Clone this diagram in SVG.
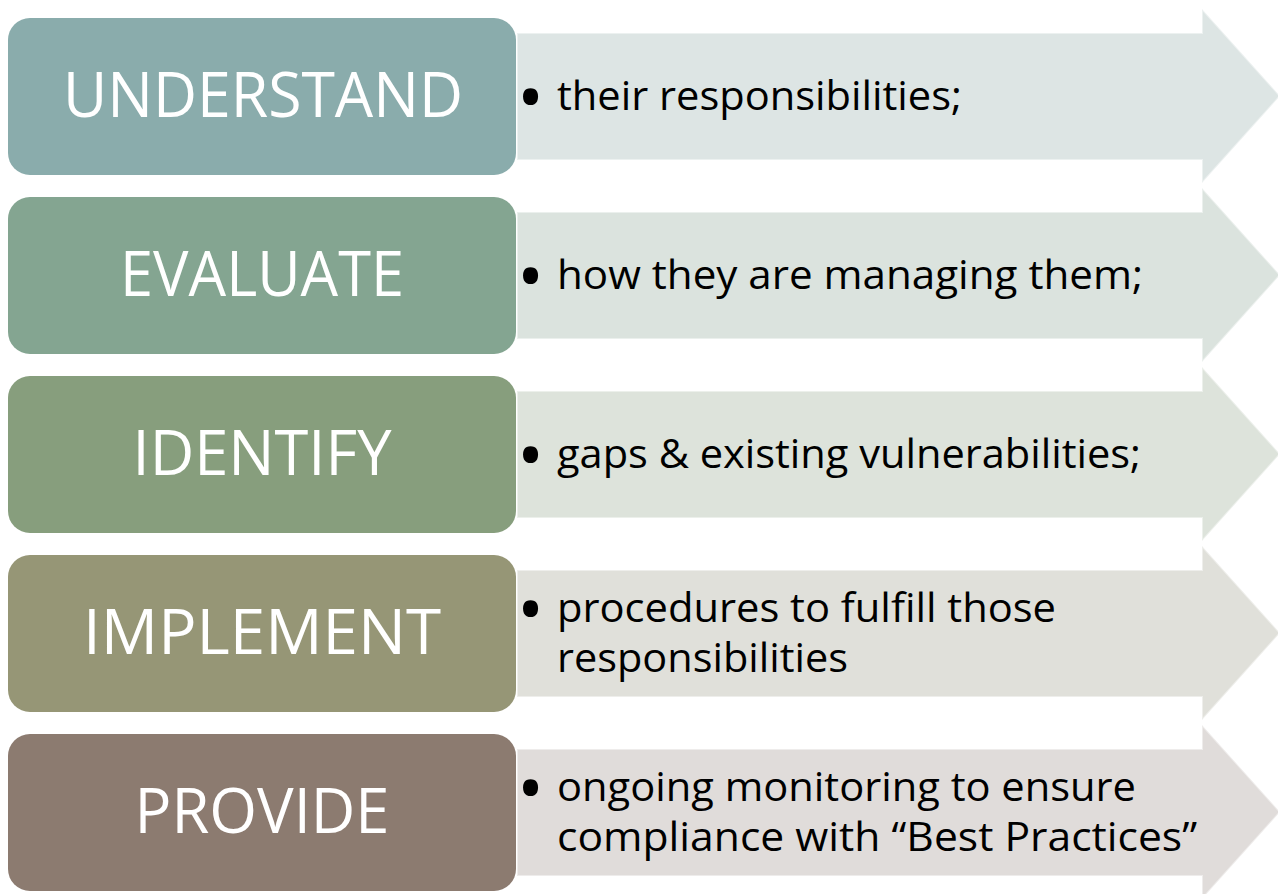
<svg xmlns="http://www.w3.org/2000/svg" width="1278" height="894" viewBox="0 0 1278 894">
  <style>
    .box { stroke: none; }
    .arrow { stroke: #ffffff; stroke-opacity: 0.45; stroke-width: 2; stroke-linejoin: miter; }
    .label { font-family: "Open Sans", "Liberation Sans", sans-serif; font-size: 63px; fill: #ffffff; text-anchor: middle; }
    .item { font-family: "Open Sans", "Liberation Sans", sans-serif; font-size: 40px; fill: #000000; }
    .dot { font-family: "Open Sans", "Liberation Sans", sans-serif; font-size: 72px; fill: #000000; }
  </style>
  <rect width="1278" height="894" fill="#ffffff"/>

  <!-- step 1 -->
  <g id="understand">
    <polygon class="arrow" fill="#dde5e4" points="517,33 1202,33 1202,9 1280,96 1202,183 1202,160 517,160"/>
    <rect class="box" x="8" y="18" width="508" height="157" rx="22" fill="#8aacac"/>
    <text class="label" x="263" y="117" textLength="400" lengthAdjust="spacingAndGlyphs">UNDERSTAND</text>
    <text class="dot" x="517" y="123">•</text>
    <text class="item" x="557" y="110" textLength="405" lengthAdjust="spacingAndGlyphs">their responsibilities;</text>
  </g>

  <!-- step 2 -->
  <g id="evaluate">
    <polygon class="arrow" fill="#dbe3de" points="517,212 1202,212 1202,188 1280,275 1202,362 1202,339 517,339"/>
    <rect class="box" x="8" y="197" width="508" height="157" rx="22" fill="#84a591"/>
    <text class="label" x="262" y="296" textLength="284" lengthAdjust="spacingAndGlyphs">EVALUATE</text>
    <text class="dot" x="517" y="302">•</text>
    <text class="item" x="557" y="289" textLength="586" lengthAdjust="spacingAndGlyphs">how they are managing them;</text>
  </g>

  <!-- step 3 -->
  <g id="identify">
    <polygon class="arrow" fill="#dde3db" points="517,391 1202,391 1202,367 1280,454 1202,541 1202,518 517,518"/>
    <rect class="box" x="8" y="376" width="508" height="157" rx="22" fill="#879e7d"/>
    <text class="label" x="262" y="475" textLength="259" lengthAdjust="spacingAndGlyphs">IDENTIFY</text>
    <text class="dot" x="517" y="481">•</text>
    <text class="item" x="557" y="468" textLength="584" lengthAdjust="spacingAndGlyphs">gaps &amp; existing vulnerabilities;</text>
  </g>

  <!-- step 4 -->
  <g id="implement">
    <polygon class="arrow" fill="#e0e0da" points="517,570 1202,570 1202,546 1280,633 1202,720 1202,697 517,697"/>
    <rect class="box" x="8" y="555" width="508" height="157" rx="22" fill="#969676"/>
    <text class="label" x="262" y="654" textLength="358" lengthAdjust="spacingAndGlyphs">IMPLEMENT</text>
    <text class="dot" x="517" y="635">•</text>
    <text class="item" x="557" y="622" textLength="499" lengthAdjust="spacingAndGlyphs">procedures to fulfill those</text>
    <text class="item" x="557" y="672" textLength="291" lengthAdjust="spacingAndGlyphs">responsibilities</text>
  </g>

  <!-- step 5 -->
  <g id="provide">
    <polygon class="arrow" fill="#e0dcda" points="517,749 1202,749 1202,725 1280,812 1202,899 1202,876 517,876"/>
    <rect class="box" x="8" y="734" width="508" height="157" rx="22" fill="#8c7b70"/>
    <text class="label" x="262" y="833" textLength="255" lengthAdjust="spacingAndGlyphs">PROVIDE</text>
    <text class="dot" x="517" y="814">•</text>
    <text class="item" x="557" y="801" textLength="579" lengthAdjust="spacingAndGlyphs">ongoing monitoring to ensure</text>
    <text class="item" x="557" y="851" textLength="640" lengthAdjust="spacingAndGlyphs">compliance with “Best Practices”</text>
  </g>

  <g id="connectors"/>
</svg>
